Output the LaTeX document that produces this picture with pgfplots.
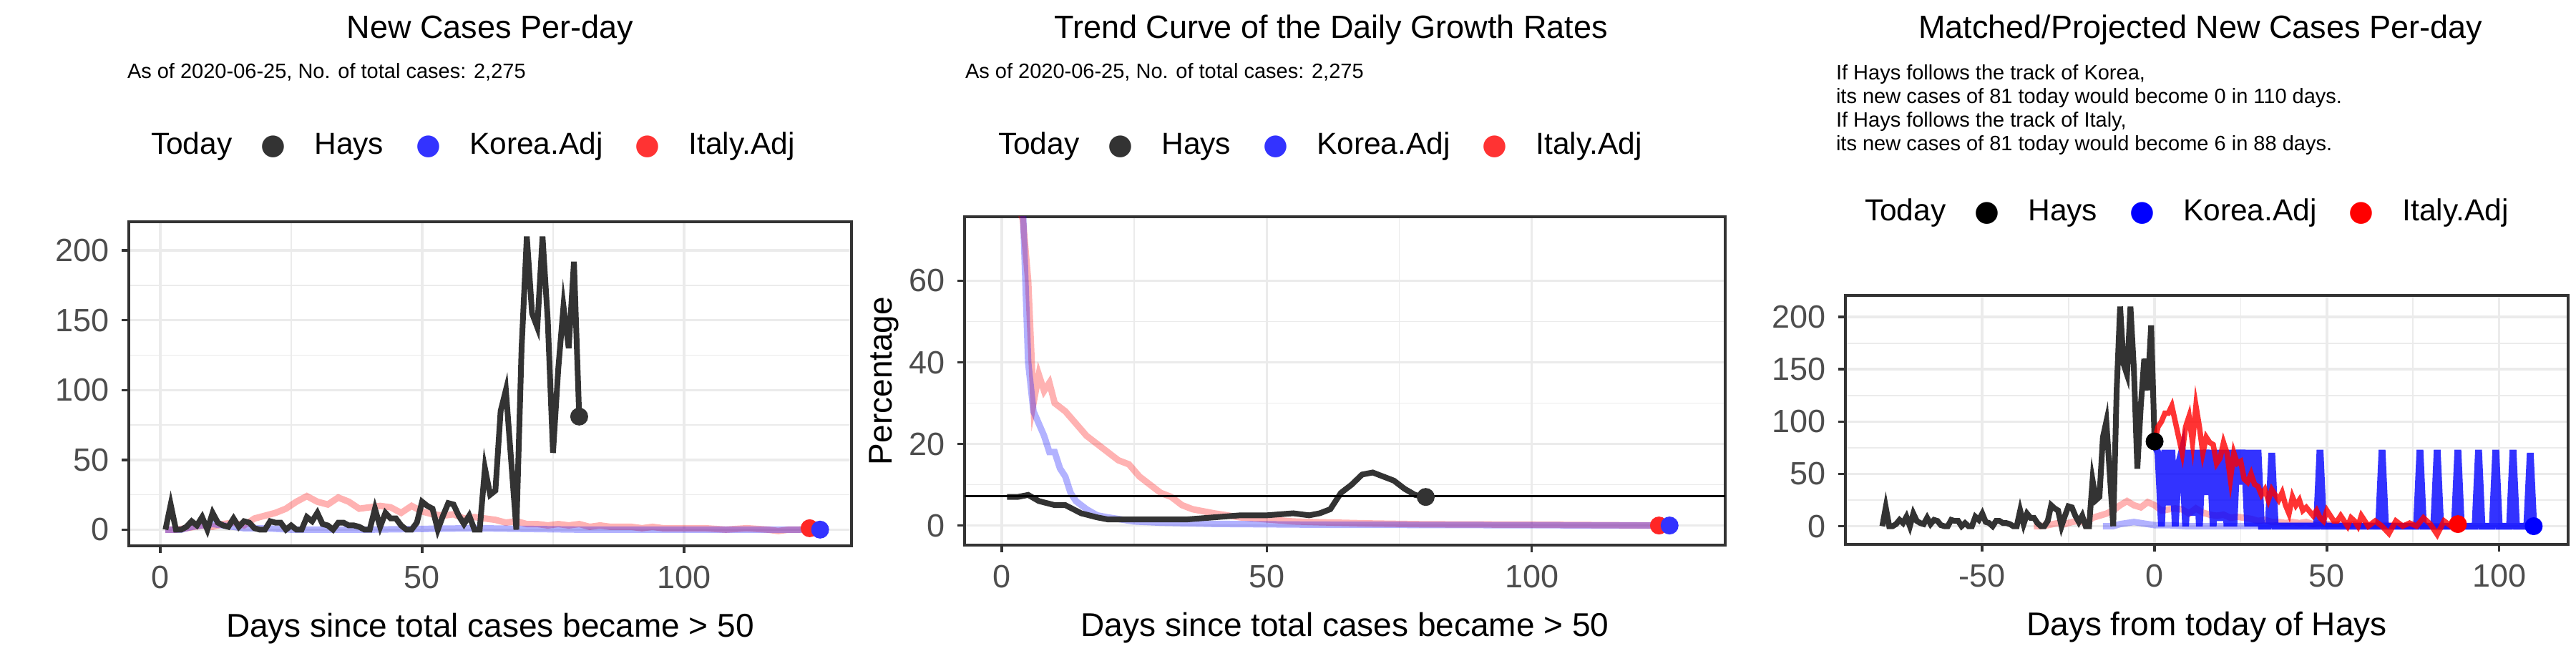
\documentclass[border=0pt]{standalone}
\usepackage{pgfplots}
\pgfplotsset{compat=1.18}
\usepackage{pgfplotstable}
\usepackage{fontspec}
\setmainfont{Liberation Sans}
\newfontfamily\dejavu{DejaVu Sans}
\definecolor{hays}{HTML}{333333}
\definecolor{gridc}{HTML}{EBEBEB}
\definecolor{tickc}{HTML}{4D4D4D}
\pgfplotstableread{
x y
1 0
2 18
3 0
4 0
5 2
6 6
7 3
8 9
9 0
10 12
11 5
12 3
13 2
14 8
15 2
16 6
17 5
18 1
19 0
20 0
21 6
22 5
23 5
24 0
25 3
26 0
27 0
28 9
29 6
30 12
31 4
32 3
33 0
34 5
35 5
36 3
37 3
38 2
39 0
40 0
41 15
42 2
43 12
44 8
45 8
46 3
47 0
48 0
49 5
50 20
51 17
52 15
53 0
54 10
55 19
56 18
57 10
58 4
59 10
60 0
61 0
62 44
63 25
64 28
65 85
66 100
67 50
68 0
69 130
70 210
71 155
72 145
73 210
74 150
75 55
76 115
77 160
78 130
79 192
80 81
}\hays
\pgfplotstableread{
x y
1 0
3 0
5 1
8 3
10 2
12 4
14 5
16 3
18 8
20 10
22 12
24 15
26 20
28 24
30 20
32 18
34 23
36 20
38 15
40 16
42 17
44 16
46 12
48 17
50 13
52 11
54 10
56 11
58 8
60 9
62 8
64 7
66 5
68 6
70 4
72 4
74 3
76 4
78 3
80 4
82 2
84 3
86 2
88 2
90 2
92 1
94 2
96 1
98 1
100 1
104 1
108 0
112 1
116 0
118 -1
120 0
122 0
124 1
}\italy
\pgfplotstableread{
x y
1 0
4 0
6 2
8 3
10 4
12 3
14 2
16 1
20 1
25 0
40 0
60 1
80 0
100 0
126 0
}\korea
\pgfplotstableread{
x y
1 7
3 7
5 7.5
7 6
10 5
12 5
15 3
18 2
20 1.5
25 1.5
30 1.5
35 1.5
40 2
45 2.5
50 2.5
55 3
58 2.5
60 3
62 4
64 8
66 10
68 12.5
70 13
72 12
74 11
76 9
78 7.5
80 7
}\haysg
\pgfplotstableread{
x y
1 85
4 75
5 60
6 30
7 37
8 33
9 35
10 30
12 28
14 25
16 22
18 20
20 18
22 16
24 15
26 12
28 10
30 8
32 7
34 5
36 4
40 3
45 2
50 1.5
55 1
60 0.8
70 0.5
80 0.3
100 0.2
124 0
}\italyg
\pgfplotstableread{
x y
1 85
4 78
5 40
6 28
7 25
8 22
9 18
10 18
11 14
12 12
13 8
14 6
16 4
18 2.5
20 2
25 1
30 0.7
40 0.4
60 0.2
126 0
}\koreag
\pgfplotstableread{
x y
0 81
1 95
2 100
3 108
4 108
5 115
6 100
7 85
8 70
9 95
10 105
11 80
12 115
13 95
14 70
15 85
16 80
17 78
18 60
19 65
20 80
21 70
22 45
23 70
24 60
25 62
26 45
27 42
28 50
29 40
30 38
31 30
32 35
33 25
34 35
35 30
36 25
37 32
38 20
39 12
40 28
41 20
42 25
43 15
44 18
45 14
46 10
47 15
48 8
49 5
50 15
51 10
52 5
53 5
54 10
55 5
56 0
57 8
58 5
59 0
60 10
62 0
64 5
66 0
68 -7
70 5
72 0
74 3
76 0
78 8
80 2
82 -8
84 5
86 0
88 6
}\italyp
\pgfplotstableread{
x y
0 78
1 70
2 0
3 73
4 20
5 73
6 0
7 60
8 73
9 0
10 73
11 10
12 73
13 0
14 73
15 30
16 73
17 0
18 73
19 5
20 73
21 0
22 73
23 0
24 73
25 40
26 73
27 0
28 73
29 0
30 73
31 0
33 0
34 70
35 0
47 0
48 73
49 0
65 0
66 73
67 0
76 0
77 73
78 0
81 0
82 73
83 0
87 0
88 73
89 0
93 0
94 73
95 0
98 0
99 73
100 0
103 0
104 73
105 0
108 0
109 70
110 0
}\koreap
\pgfplotsset{
  base/.style={scale only axis, anchor=south west,
    axis line style={color=hays, line width=0.8pt},
    grid=both, major grid style={gridc, line width=0.7pt},
    minor grid style={gridc, line width=0.35pt},
    minor tick num=1, tick style={color=hays, line width=0.7pt},
    tick align=outside, major tick length=2pt, minor tick length=0pt,
    ticklabel style={font=\fontsize{9}{10}\selectfont, color=tickc},
    /pgf/number format/assume math mode=true,
    label style={font=\fontsize{9.2}{10}\selectfont},
    xtick pos=bottom, ytick pos=left, clip=true},
}
\newcommand{\legendrow}[3]{%
  \node[anchor=west, font=\fontsize{8.5}{10}\selectfont, inner sep=0] at (#1,#2) {Today\hspace{8pt}{\dejavu\textcolor{#3}{\fontsize{8}{8}\selectfont ●}}\hspace{8pt}Hays\hspace{9pt}{\dejavu\textcolor{blue!80!white}{\fontsize{8}{8}\selectfont ●}}\hspace{8pt}Korea.Adj\hspace{9pt}{\dejavu\textcolor{red!80!white}{\fontsize{8}{8}\selectfont ●}}\hspace{8pt}Italy.Adj};}
\begin{document}
\begin{tikzpicture}
\path (0,0) rectangle (720pt,180pt);
% Panel 1
\begin{axis}[base, at={(36pt,27.4pt)}, width=202pt, height=90.6pt,
  xmin=-6, xmax=132, ymin=-11.6, ymax=220.6, xtick={0,50,100}, ytick={0,50,100,150,200},
  xlabel={Days since total cases became > 50}]
\addplot[red, opacity=0.3, line width=1.8pt] table[x=x,y=y]{\italy};
\addplot[blue, opacity=0.3, line width=1.8pt] table[x=x,y=y]{\korea};
\addplot[hays, line width=1.6pt] table[x=x,y=y]{\hays};
\addplot[only marks, mark=*, mark size=2.3pt, hays] coordinates {(80,81)};
\addplot[only marks, mark=*, mark size=2.3pt, red!85!white] coordinates {(124,1)};
\addplot[only marks, mark=*, mark size=2.3pt, blue!80!white] coordinates {(126,0)};
\end{axis}
\node[font=\fontsize{9}{10}\selectfont] at (137pt,171.7pt) {New Cases Per-day};
\node[anchor=west, inner sep=0, font=\fontsize{5.8}{7}\selectfont] at (35.4pt,159.8pt) {As of 2020-06-25, No. of total cases: 2,275};
\legendrow{42pt}{139pt}{hays}
% Panel 2
\begin{axis}[base, at={(269.6pt,27.6pt)}, width=212.6pt, height=91.8pt,
  xmin=-7, xmax=136.5, ymin=-4.8, ymax=75.7, xtick={0,50,100}, ytick={0,20,40,60},
  xlabel={Days since total cases became > 50}, ylabel={Percentage}, ylabel style={yshift=-4pt}]
\addplot[red, opacity=0.3, line width=1.8pt] table[x=x,y=y]{\italyg};
\addplot[blue, opacity=0.3, line width=1.8pt] table[x=x,y=y]{\koreag};
\addplot[hays, line width=1.6pt] table[x=x,y=y]{\haysg};
\addplot[black, line width=0.7pt] coordinates {(-7,7.2) (136.5,7.2)};
\addplot[only marks, mark=*, mark size=2.3pt, hays] coordinates {(80,7)};
\addplot[only marks, mark=*, mark size=2.3pt, red!85!white] coordinates {(124,0)};
\addplot[only marks, mark=*, mark size=2.3pt, blue!80!white] coordinates {(126,0)};
\end{axis}
\node[font=\fontsize{9}{10}\selectfont] at (372pt,171.7pt) {Trend Curve of the Daily Growth Rates};
\node[anchor=west, inner sep=0, font=\fontsize{5.8}{7}\selectfont] at (269.6pt,159.8pt) {As of 2020-06-25, No. of total cases: 2,275};
\legendrow{278.8pt}{139pt}{hays}
% Panel 3
\begin{axis}[base, at={(515.8pt,27.8pt)}, width=202pt, height=69.6pt,
  xmin=-89.7, xmax=120, ymin=-17.4, ymax=220.6, xtick={-50,0,50,100}, ytick={0,50,100,150,200},
  xlabel={Days from today of Hays}]
\addplot[red, opacity=0.3, line width=1.8pt] table[x expr=\thisrow{x}-36,y=y]{\italy};
\addplot[blue, opacity=0.3, line width=1.8pt] table[x expr=\thisrow{x}-16,y=y]{\korea};
\addplot[hays, line width=1.6pt] table[x expr=\thisrow{x}-80,y=y]{\hays};
\addplot[blue, opacity=0.8, line width=1.9pt] table[x=x,y=y]{\koreap};
\addplot[red, opacity=0.8, line width=1.5pt] table[x=x,y=y]{\italyp};
\addplot[only marks, mark=*, mark size=2.3pt, black] coordinates {(0,81)};
\addplot[only marks, mark=*, mark size=2.3pt, red] coordinates {(88,2)};
\addplot[only marks, mark=*, mark size=2.3pt, blue] coordinates {(110,0)};
\end{axis}
\node[font=\fontsize{9}{10}\selectfont] at (615pt,171.7pt) {Matched/Projected New Cases Per-day};
\node[anchor=north west, inner sep=0, align=left, font=\fontsize{5.8}{6.6}\selectfont] at (513pt,162pt) {If Hays follows the track of Korea,\\its new cases of 81 today would become 0 in 110 days.\\If Hays follows the track of Italy,\\its new cases of 81 today would become 6 in 88 days.};
\node[anchor=west, font=\fontsize{8.5}{10}\selectfont, inner sep=0] at (521pt,120.4pt) {Today\hspace{8pt}{\dejavu\textcolor{black}{\fontsize{8}{8}\selectfont ●}}\hspace{8pt}Hays\hspace{9pt}{\dejavu\textcolor{blue}{\fontsize{8}{8}\selectfont ●}}\hspace{8pt}Korea.Adj\hspace{9pt}{\dejavu\textcolor{red}{\fontsize{8}{8}\selectfont ●}}\hspace{8pt}Italy.Adj};
\end{tikzpicture}
\end{document}
